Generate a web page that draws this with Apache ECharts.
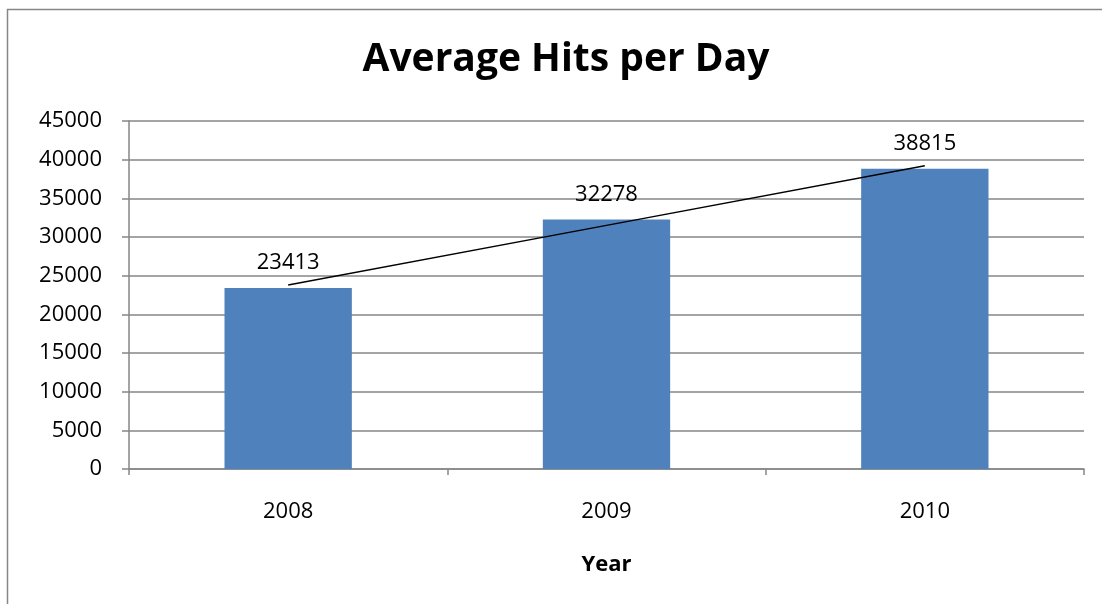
<!DOCTYPE html>
<html>
<head>
<meta charset="utf-8">
<script src="https://cdn.jsdelivr.net/npm/echarts@6/dist/echarts.min.js"></script>
<style>
  html, body { margin: 0; padding: 0; background: #fff; }
  #chart { width: 1102px; height: 604px; }
</style>
</head>
<body>
<div id="chart"></div>
<script>
// Yearly averages
const years = ['2008', '2009', '2010'];
const hits = [23413, 32278, 38815];
// Linear trend values at each year
const trend = [23801, 31502, 39203];
const yTicks = { min: 0, max: 45000, interval: 5000 };

const FONT = '"Open Sans", "Noto Sans", sans-serif';
const GRAY = '#868686';

const chart = echarts.init(document.getElementById('chart'));
chart.setOption({
  backgroundColor: '#fff',
  animation: false,
  graphic: [{
    type: 'rect',
    shape: { x: 7.5, y: 9.5, width: 1200, height: 700 },
    style: { fill: 'none', stroke: GRAY, lineWidth: 1.5 },
    silent: true
  }],
  title: {
    text: 'Average Hits per Day',
    left: 561,
    textAlign: 'center',
    top: 35,
    textStyle: { fontFamily: FONT, fontSize: 39, fontWeight: 'bold', color: '#000' }
  },
  grid: { left: 129, right: 18, top: 121, bottom: 135 },
  xAxis: {
    type: 'category',
    data: years,
    name: 'Year',
    nameLocation: 'middle',
    nameGap: 85,
    nameTextStyle: { fontFamily: FONT, fontSize: 22, fontWeight: 'bold', color: '#000' },
    axisLine: { lineStyle: { color: GRAY, width: 1.5 } },
    axisTick: { show: true, length: 6, lineStyle: { color: GRAY, width: 1.5 } },
    axisLabel: { margin: 32, fontFamily: FONT, fontSize: 22, color: '#000' }
  },
  yAxis: {
    type: 'value',
    min: yTicks.min,
    max: yTicks.max,
    interval: yTicks.interval,
    axisLine: { show: true, lineStyle: { color: GRAY, width: 1.5 } },
    axisTick: { show: true, length: 7, lineStyle: { color: GRAY, width: 1.5 } },
    axisLabel: { margin: 27, fontFamily: FONT, fontSize: 22, color: '#000', formatter: v => String(v) },
    splitLine: { lineStyle: { color: GRAY, width: 1.5 } }
  },
  series: [{
    type: 'bar',
    data: hits,
    barWidth: '40%',
    itemStyle: { color: '#4F81BD' },
    label: {
      show: true,
      position: 'top',
      distance: 14,
      fontFamily: FONT,
      fontSize: 22,
      color: '#000'
    }
  }, {
    type: 'line',
    data: trend,
    symbol: 'none',
    lineStyle: { color: '#000', width: 1.5 },
    z: 3
  }]
});
</script>
</body>
</html>
